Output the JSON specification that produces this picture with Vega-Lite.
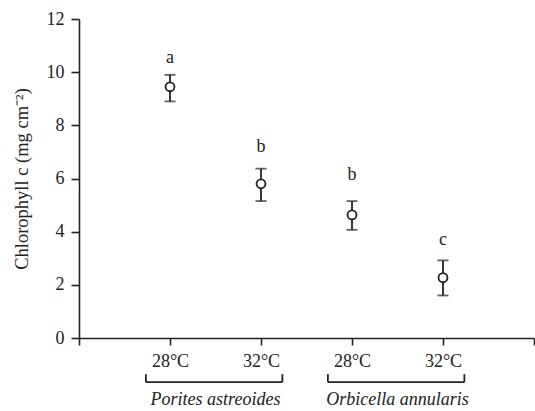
{
  "$schema": "https://vega.github.io/schema/vega-lite/v6.json",
  "width": 455,
  "height": 319,
  "autosize": {"type": "none"},
  "padding": {"left": 79, "top": 19, "right": 1, "bottom": 73},
  "background": "white",
  "config": {
    "view": {"stroke": null},
    "font": "Liberation Serif",
    "axis": {"grid": false, "domainColor": "#222", "tickColor": "#222", "labelColor": "#222", "titleColor": "#222", "labelFont": "Liberation Serif", "titleFont": "Liberation Serif", "domainWidth": 1.6, "tickWidth": 1.6}
  },
  "datasets": {
    "pts": [
      {"species": "Porites astreoides", "temp": "28°C", "pos": 1, "mean": 9.45, "lo": 8.9, "hi": 9.9, "letter": "a", "ly": 10.55},
      {"species": "Porites astreoides", "temp": "32°C", "pos": 2, "mean": 5.8, "lo": 5.15, "hi": 6.37, "letter": "b", "ly": 7.2},
      {"species": "Orbicella annularis", "temp": "28°C", "pos": 3, "mean": 4.63, "lo": 4.07, "hi": 5.15, "letter": "b", "ly": 6.15},
      {"species": "Orbicella annularis", "temp": "32°C", "pos": 4, "mean": 2.27, "lo": 1.6, "hi": 2.92, "letter": "c", "ly": 3.67}
    ],
    "brackets": [
      {"x": 0.735, "x2": 2.235, "y": -1.66, "y2": -1.66},
      {"x": 0.735, "x2": 0.735, "y": -1.66, "y2": -1.36},
      {"x": 2.235, "x2": 2.235, "y": -1.66, "y2": -1.36},
      {"x": 2.735, "x2": 4.235, "y": -1.66, "y2": -1.66},
      {"x": 2.735, "x2": 2.735, "y": -1.66, "y2": -1.36},
      {"x": 4.235, "x2": 4.235, "y": -1.66, "y2": -1.36}
    ],
    "species": [
      {"name": "Porites astreoides", "x": 1.5, "y": -2.35},
      {"name": "Orbicella annularis", "x": 3.5, "y": -2.35}
    ]
  },
  "layer": [
    {
      "data": {"name": "pts"},
      "mark": {"type": "rule", "color": "#222", "strokeWidth": 1.8},
      "encoding": {
        "x": {"field": "pos", "type": "quantitative", "scale": {"domain": [0, 5], "nice": false},
          "axis": {"values": [0, 1, 2, 3, 4, 5], "title": null, "tickSize": 7, "labelPadding": 7, "labelFontSize": 18,
            "labelExpr": "datum.value == 1 || datum.value == 3 ? '28°C' : (datum.value == 2 || datum.value == 4 ? '32°C' : '')"}},
        "y": {"field": "lo", "type": "quantitative", "scale": {"domain": [0, 12], "nice": false},
          "axis": {"values": [0, 2, 4, 6, 8, 10, 12], "title": "Chlorophyll c (mg cm⁻²)", "titleFontSize": 18.5, "titleFontWeight": "normal", "titlePadding": 15, "tickSize": 8, "labelPadding": 7, "labelFontSize": 18}},
        "y2": {"field": "hi"}
      }
    },
    {
      "data": {"name": "pts"},
      "mark": {"type": "tick", "color": "#222", "orient": "horizontal", "size": 11, "thickness": 1.8},
      "encoding": {
        "x": {"field": "pos", "type": "quantitative"},
        "y": {"field": "lo", "type": "quantitative"}
      }
    },
    {
      "data": {"name": "pts"},
      "mark": {"type": "tick", "color": "#222", "orient": "horizontal", "size": 11, "thickness": 1.8},
      "encoding": {
        "x": {"field": "pos", "type": "quantitative"},
        "y": {"field": "hi", "type": "quantitative"}
      }
    },
    {
      "data": {"name": "pts"},
      "mark": {"type": "point", "shape": "circle", "filled": false, "fill": "white", "fillOpacity": 1, "stroke": "#222", "strokeWidth": 1.8, "size": 80, "opacity": 1},
      "encoding": {
        "x": {"field": "pos", "type": "quantitative"},
        "y": {"field": "mean", "type": "quantitative"}
      }
    },
    {
      "data": {"name": "pts"},
      "mark": {"type": "text", "fontSize": 18, "color": "#222", "baseline": "middle", "align": "center"},
      "encoding": {
        "x": {"field": "pos", "type": "quantitative"},
        "y": {"field": "ly", "type": "quantitative"},
        "text": {"field": "letter"}
      }
    },
    {
      "data": {"name": "brackets"},
      "mark": {"type": "rule", "color": "#222", "strokeWidth": 1.8},
      "encoding": {
        "x": {"field": "x", "type": "quantitative"},
        "x2": {"field": "x2"},
        "y": {"field": "y", "type": "quantitative"},
        "y2": {"field": "y2"}
      }
    },
    {
      "data": {"name": "species"},
      "mark": {"type": "text", "fontSize": 18, "fontStyle": "italic", "color": "#222", "baseline": "middle", "align": "center"},
      "encoding": {
        "x": {"field": "x", "type": "quantitative"},
        "y": {"field": "y", "type": "quantitative"},
        "text": {"field": "name"}
      }
    }
  ]
}
